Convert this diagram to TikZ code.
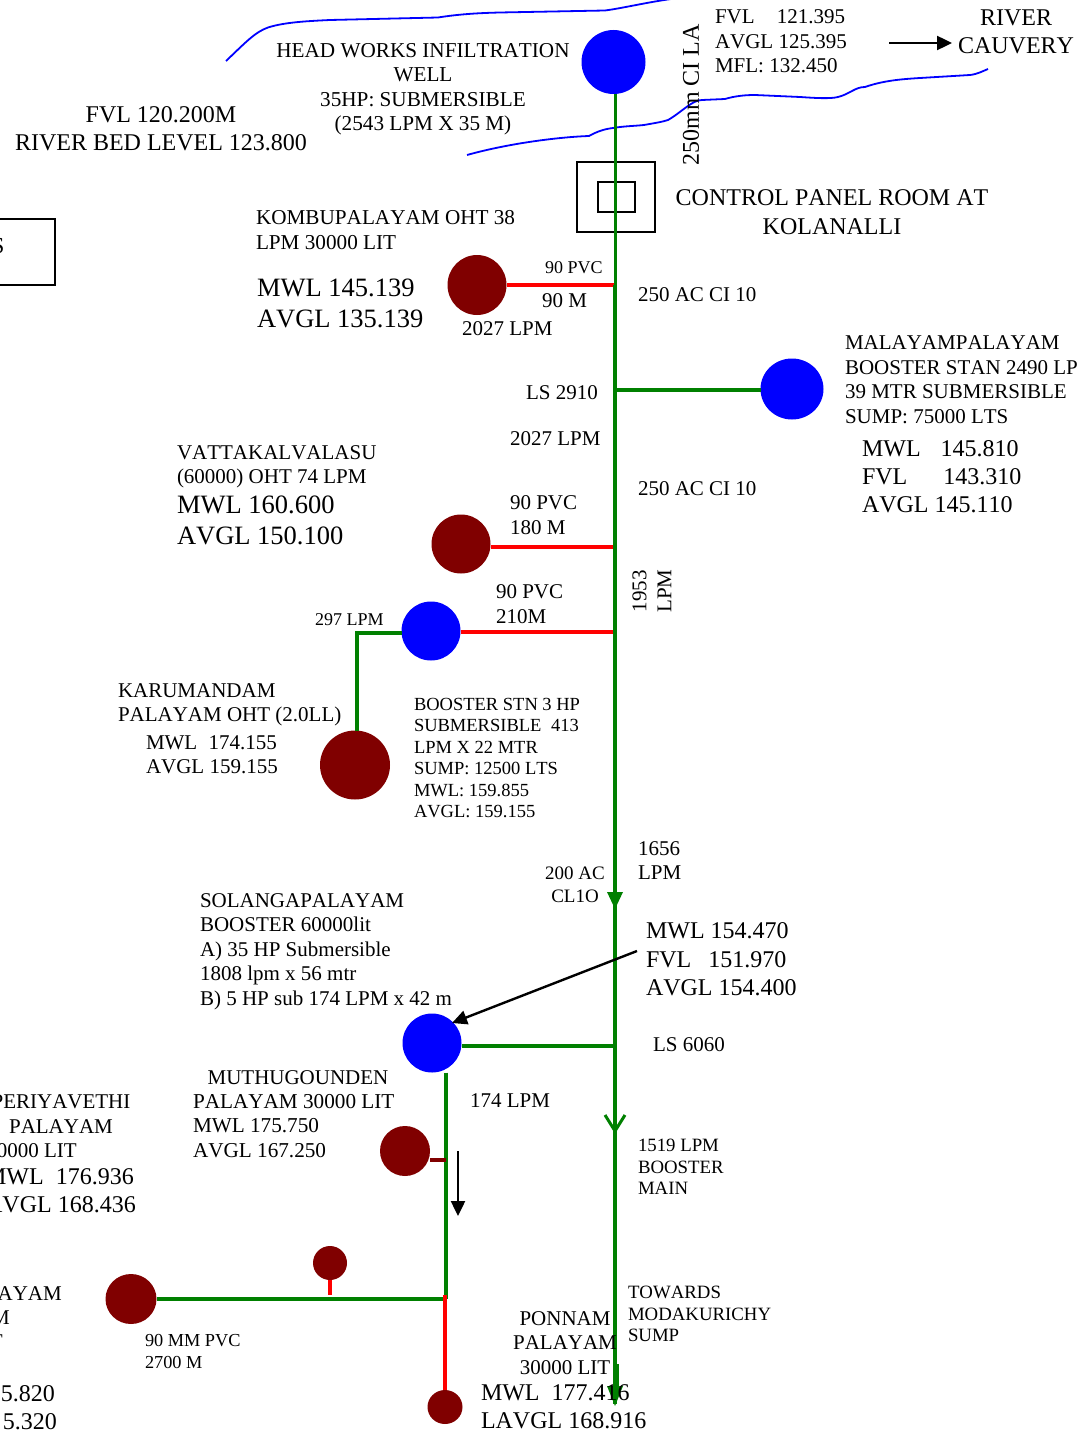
\documentclass[tikz,border=0pt]{standalone}
\usepackage{fontspec}
\setmainfont[Kerning=Off]{Liberation Serif}
\usetikzlibrary{shapes.geometric,arrows.meta}
\definecolor{pipegreen}{RGB}{0,128,0}
\definecolor{tankred}{RGB}{128,0,0}
\definecolor{pipered}{RGB}{255,0,0}
\definecolor{pumpblue}{RGB}{0,0,255}
\newcommand{\fs}[2]{\fontsize{#1pt}{#2pt}\selectfont}
\tikzset{
  x=1pt,y=-1pt,
  lbl/.style={inner sep=0pt,outer sep=0pt,align=left,anchor=west},
  lblc/.style={inner sep=0pt,outer sep=0pt,align=center,anchor=center},
  sm/.style={font=\fs{18}{22}},
  md/.style={font=\fs{21}{24.5}},
  lg/.style={font=\fs{26.5}{31}},
  tank/.style={ellipse,fill=tankred,inner sep=0pt,outer sep=0pt},
  pump/.style={ellipse,fill=pumpblue,inner sep=0pt,outer sep=0pt},
  gpipe/.style={draw=pipegreen,line width=4pt},
  gthin/.style={draw=pipegreen,line width=3pt},
  rpipe/.style={draw=pipered,line width=4pt},
  river/.style={draw=pumpblue,line width=1.8pt,line join=round},
  flowarrow/.style={draw=black,line width=2.4pt,-{Triangle[length=15pt,width=14pt]}},
  box/.style={draw=black,line width=2pt,inner sep=0pt,outer sep=0pt}
}
\begin{document}
\begin{tikzpicture}
\useasboundingbox (0,0) rectangle (1077,1434);
\clip (0,0) rectangle (1077,1434);
\fill[white] (0,0) rectangle (1077,1434);
% rivers
\draw[river] (226,61) .. controls (245,43) and (255,32) .. (268,27.5) .. controls (285,22) and (310,21) .. (330,20) -- (438,17.5) .. controls (460,14) and (480,13) .. (500,12.5) -- (605,10.5) .. controls (625,8) and (660,-1) .. (690,-3);
\draw[river] (467,155) .. controls (510,143) and (560,137) .. (589,136) .. controls (598,131) and (605,129) .. (613,128) .. controls (625,126) and (635,126) .. (644,125) .. controls (655,123) and (662,122) .. (668,120) .. controls (682,112) and (692,100) .. (702,100) -- (725,99) .. controls (735,96) and (745,95) .. (755,95) -- (800,97) .. controls (815,98) and (830,99) .. (838,97) .. controls (850,94) and (855,87) .. (865,87) .. controls (885,80) and (905,79) .. (920,78) -- (970,75) .. controls (978,74) and (983,71) .. (988,69);
% nodes: stations
\node[pump,minimum width=64pt,minimum height=64pt] (head) at (613.5,62) {};
\node[tank,minimum width=59pt,minimum height=60pt] (kombu) at (477,285) {};
\node[pump,minimum width=63pt,minimum height=61pt] (malayam) at (792,389) {};
\node[tank,minimum width=59pt,minimum height=59pt] (vatta) at (461,544) {};
\node[pump,minimum width=59pt,minimum height=59pt] (bstn) at (431,631) {};
\node[tank,minimum width=70pt,minimum height=69pt] (karu) at (355,765) {};
\node[pump,minimum width=59pt,minimum height=59pt] (solanga) at (432,1043) {};
\node[tank,minimum width=50pt,minimum height=50pt] (muthu) at (405,1151) {};
\node[tank,minimum width=51pt,minimum height=50pt] (peri) at (131,1299) {};
\node[tank,minimum width=34pt,minimum height=34pt] (small) at (330,1263) {};
\node[tank,minimum width=35pt,minimum height=34pt] (ponnam) at (445,1407) {};
% control room
\node[box,minimum width=78pt,minimum height=70pt] (room) at (616,197) {};
\node[box,minimum width=37pt,minimum height=30pt] (panel) at (616,197) {};
\node[box,minimum width=62pt,minimum height=66pt] (leftbox) at (24,252) {};
% junctions
\coordinate (jk) at (615,285);
\coordinate (jm) at (615,390);
\coordinate (jv) at (615,547);
\coordinate (jb) at (615,632);
\coordinate (ah1) at (615,907);
\coordinate (js) at (615,1046);
\coordinate (ah2) at (615,1131);
\coordinate (ah3) at (615,1404);
\coordinate (bend) at (357,633);
\coordinate (jl) at (446,1299);
\coordinate (jmu) at (446,1160);
\coordinate (jsm) at (330,1295);
% branches
\draw[rpipe] (kombu.east |- jk) -- (jk);
\draw[rpipe] (vatta.east |- jv) -- (jv);
\draw[rpipe] (bstn.east |- jb) -- (jb);
\draw[gpipe] (malayam.west |- jm) -- (jm);
\draw[gpipe] (bstn.west |- bend) -- (bend) -- (bend |- karu.north);
\draw[draw=pipegreen,line width=3.5pt] (solanga.east |- js) -- (js);
\draw[gpipe] (jl |- solanga.south) -- (jl);
\draw[gpipe] (jl) -- (peri.east |- jl);
\draw[draw=tankred,line width=4pt] (muthu.east |- jmu) -- (jmu);
\draw[rpipe] (small.south) -- (jsm);
\draw[rpipe] (445,1295) -- (ponnam.north);
% main
\draw[gthin] (head.south -| jk) -- (jk);
\draw[gpipe] (jk) -- (ah3);
\draw[gpipe] (617,1364) -- (617,1392);
\fill[pipegreen] (ah1) ++(-8,-15) -- ++(16,0) -- ++(-8,17) -- cycle;
\draw[pipegreen,line width=3pt] (ah2) ++(-10,-16) -- (ah2) -- ++(10,-16);
\fill[pipegreen] (ah3) ++(-8,-18) -- ++(16,0) -- ++(-8,20) -- cycle;
% black arrows
\coordinate (ra) at (889,43); \coordinate (rb) at (952,43);
\draw[flowarrow] (ra) -- (rb);
\coordinate (ma) at (637,951);
\draw[flowarrow] (ma) -- (452,1023);
\coordinate (da) at (458,1151); \coordinate (db) at (458,1216);
\draw[flowarrow] (da) -- (db);
% labels
\node[lblc,font=\fs{21.2}{24.5}] (t1) at (423,89) {HEAD WORKS INFILTRATION\\WELL\\35HP: SUBMERSIBLE\\(2543 LPM X 35 M)};
\node[lblc,md,font=\fs{24}{28}] (t2) at (161,129) {FVL 120.200M\\RIVER BED LEVEL 123.800};
\node[lbl,md] (t3) at (715,41.5) {FVL\hspace{17pt} 121.395\\AVGL 125.395\\MFL: 132.450};
\node[lblc,font=\fs{24}{28}] (t4) at (1016,32) {RIVER\\CAUVERY};
\node[lblc,font=\fs{24}{24},rotate=90] (t5) at (691,95) {250mm CI LA};
\node[lblc,font=\fs{24}{29}] (t6) at (832,212) {CONTROL PANEL ROOM AT\\KOLANALLI};
\node[lbl,font=\fs{21.2}{24.5}] (t7) at (256,230) {KOMBUPALAYAM OHT 38\\LPM 30000 LIT};
\node[lbl,lg] (t8) at (257,303) {MWL 145.139\\AVGL 135.139};
\node[lbl,sm] (t9) at (545,268) {90 PVC};
\node[lbl,md] (t10) at (542,301) {90 M};
\node[lbl,md] (t11) at (462,329) {2027 LPM};
\node[lbl,md] (t12) at (638,295) {250 AC CI 10};
\node[lbl,md] (t13) at (526,393) {LS 2910};
\node[lbl,md] (t14) at (510,439) {2027 LPM};
\node[lbl,md] (t15) at (638,489) {250 AC CI 10};
\node[lbl,md] (t16) at (845,379.5) {MALAYAMPALAYAM\\BOOSTER STAN 2490 LPM\\39 MTR SUBMERSIBLE\\SUMP: 75000 LTS};
\node[lbl,font=\fs{24}{28}] (t17) at (862,477) {MWL\hspace{14pt} 145.810\\FVL\hspace{30pt} 143.310\\AVGL 145.110};
\node[lbl,md] (t18) at (177,467) {VATTAKALVALASU\\(60000) OHT 74 LPM};
\node[lbl,lg] (t19) at (177,520) {MWL 160.600\\AVGL 150.100};
\node[lbl,md] (t20) at (510,515) {90 PVC\\180 M};
\node[lbl,md] (t21) at (496,604) {90 PVC\\210M};
\node[lblc,font=\fs{21}{25},rotate=90] (t22) at (652,591) {1953\\LPM};
\node[lbl,sm] (t23) at (315,620) {297 LPM};
\node[lbl,md] (t24) at (118,705) {KARUMANDAM\\PALAYAM OHT (2.0LL)};
\node[lbl,md] (t25) at (146,754.5) {MWL\hspace{6pt} 174.155\\AVGL 159.155};
\node[lbl,sm,font=\fs{18.5}{21.4}] (t26) at (414,758) {BOOSTER STN 3 HP\\SUBMERSIBLE\hspace{5pt} 413\\LPM X 22 MTR\\SUMP: 12500 LTS\\MWL: 159.855\\AVGL: 159.155};
\node[lbl,md] (t27) at (638,860.5) {1656\\LPM};
\node[lblc,font=\fs{19}{22.5}] (t28) at (575,885) {200 AC\\CL1O};
\node[lbl,md] (t29) at (200,951.5) {SOLANGAPALAYAM\\BOOSTER 60000lit\\A) 35 HP Submersible\\1808 lpm x 56 mtr\\B) 5 HP sub 174 LPM x 42 m};
\node[lbl,font=\fs{24}{28.5}] (t30) at (646,959.5) {MWL 154.470\\FVL\hspace{11pt} 151.970\\AVGL 154.400};
\node[lbl,md] (t31) at (653,1045) {LS 6060};
\node[lbl,md] (t32) at (470,1101) {174 LPM};
\node[lbl,sm,font=\fs{18.8}{21.5}] (t33) at (638,1167) {1519 LPM\\BOOSTER\\MAIN};
\node[lblc,md] (t34) at (298,1078) {MUTHUGOUNDEN};
\node[lbl,font=\fs{21.2}{24.5}] (t35) at (193,1126) {PALAYAM 30000 LIT\\MWL 175.750\\AVGL 167.250};
\node[lblc,md] (t36) at (61,1114) {PERIYAVETHI\\PALAYAM};
\node[anchor=east,inner sep=0pt,md] (t37) at (77,1151) {30000 LIT};
\node[anchor=east,inner sep=0pt,font=\fs{24}{24}] (t38) at (134,1177) {MWL\hspace{6pt} 176.936};
\node[anchor=east,inner sep=0pt,font=\fs{24}{24}] (t39) at (136,1205) {AVGL 168.436};
\node[anchor=east,inner sep=0pt,md] (t40) at (62,1294) {AYAM};
\node[anchor=east,inner sep=0pt,md] (t41) at (10,1318) {M};
\node[anchor=east,inner sep=0pt,md] (t42) at (3,1342) {T};
\node[anchor=east,inner sep=0pt,font=\fs{24}{24}] (t43) at (55,1394) {5.820};
\node[anchor=east,inner sep=0pt,font=\fs{24}{24}] (t44) at (57,1422) {5.320};
\node[lbl,sm,font=\fs{18.3}{22}] (t45) at (145,1351) {90 MM PVC\\2700 M};
\node[lbl,font=\fs{18.8}{21.5}] (t46) at (628,1314) {TOWARDS\\MODAKURICHY\\SUMP};
\node[lblc,md] (t47) at (565,1343) {PONNAM\\PALAYAM\\30000 LIT};
\node[lbl,font=\fs{24}{27.5}] (t48) at (481,1406.5) {MWL\hspace{6pt} 177.416\\LAVGL 168.916};
\node[anchor=center,inner sep=0pt,font=\fs{23}{23}] (t49) at (-2,246) {S};
\end{tikzpicture}
\end{document}
